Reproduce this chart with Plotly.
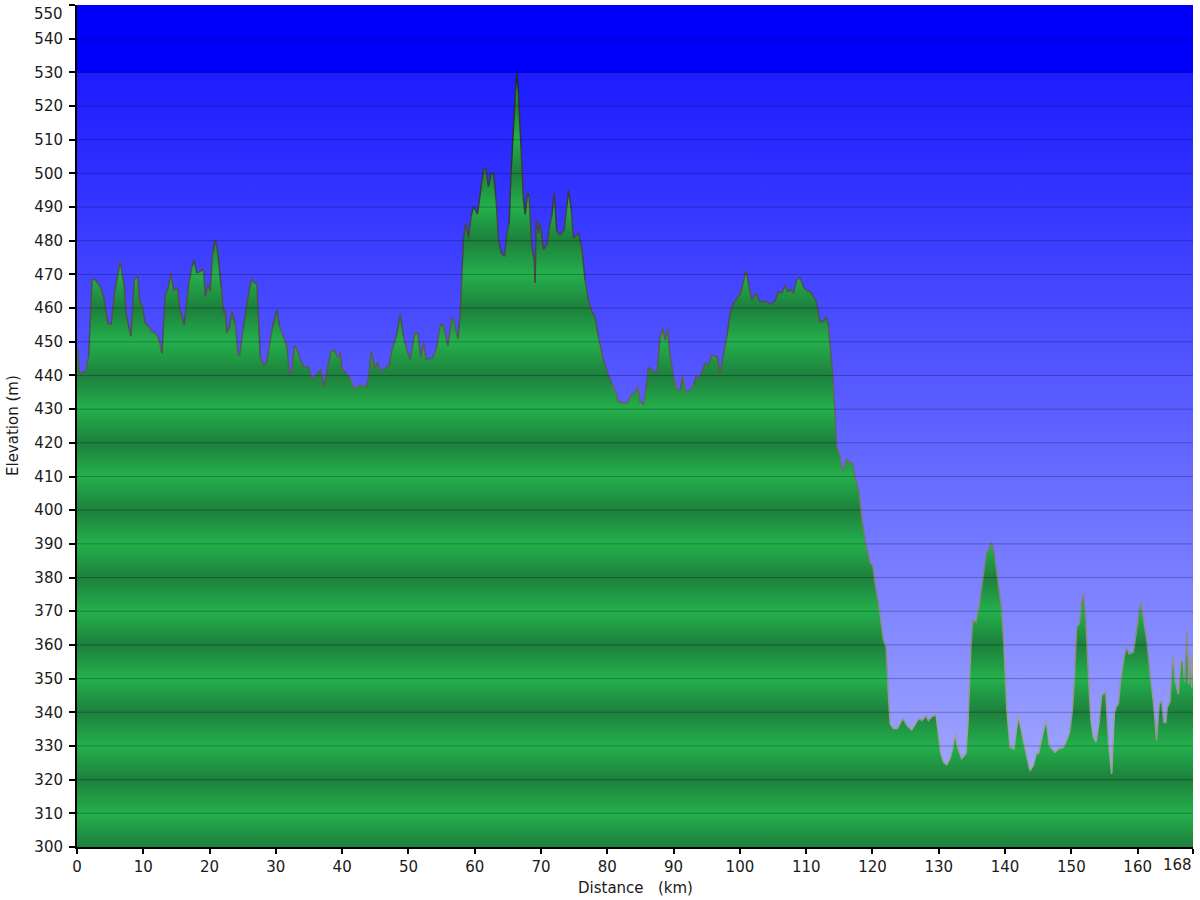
import plotly.graph_objects as go

# ---------------- data ----------------
distance_km = [
    0.0, 0.1, 0.4, 0.75, 1.25, 1.5, 1.75, 2.26, 2.76, 3.51, 4.02, 4.67, 5.17, 5.68, 6.53,
    7.13, 7.43, 8.14, 8.64, 9.14, 9.45, 9.80, 10.30, 10.80, 11.31, 11.81, 12.16, 12.46,
    12.81, 13.32, 13.67, 14.17, 14.57, 15.18, 15.48, 16.18, 16.83, 17.34, 17.69, 18.09,
    18.59, 19.10, 19.35, 19.75, 20.10, 20.45, 20.86, 21.26, 21.76, 22.11, 22.36, 22.62,
    22.97, 23.37, 23.87, 24.27, 24.53, 25.03, 25.48, 25.88, 26.39, 26.64, 27.14, 27.64,
    28.15, 28.65, 29.40, 30.16, 30.56, 31.16, 31.66, 32.07, 32.42, 32.82, 33.20, 33.68,
    34.18, 34.93, 35.28, 35.43, 36.44, 36.79, 37.19, 37.70, 38.30, 38.80, 39.21, 39.56,
    39.71, 39.96, 40.71, 41.22, 41.82, 42.72, 43.22, 43.63, 43.98, 44.38, 44.73, 44.99,
    45.34, 45.74, 46.49, 47.10, 47.50, 48.15, 48.76, 49.26, 49.76, 50.26, 50.92, 51.42,
    51.87, 52.27, 52.68, 53.68, 54.29, 54.79, 55.29, 55.94, 56.55, 56.80, 57.45, 57.80,
    58.10, 58.30, 58.66, 59.06, 59.46, 59.81, 60.41, 60.82, 61.32, 61.67, 62.07, 62.43,
    62.83, 63.23, 63.58, 63.99, 64.49, 64.84, 65.19, 65.50, 65.85, 66.15, 66.35, 66.60,
    66.95, 67.35, 67.61, 67.96, 68.21, 68.61, 68.96, 69.11, 69.27, 69.62, 69.87, 70.37,
    70.87, 71.27, 71.63, 71.98, 72.38, 72.89, 73.49, 73.89, 74.14, 74.55, 74.89, 75.40,
    75.65, 76.15, 76.65, 77.16, 77.66, 78.16, 78.66, 79.42, 80.17, 80.68, 81.18, 81.68,
    82.43, 82.94, 83.44, 84.19, 84.60, 84.95, 85.45, 85.80, 86.20, 86.86, 87.46, 87.97,
    88.37, 88.72, 89.07, 89.37, 89.97, 90.58, 90.98, 91.38, 91.89, 92.49, 92.99, 93.39,
    93.89, 94.75, 95.25, 95.76, 96.26, 96.61, 97.01, 97.51, 98.02, 98.52, 99.02, 99.53,
    100.03, 100.53, 100.94, 101.29, 101.79, 102.39, 103.05, 104.05, 104.66, 105.31,
    105.81, 106.32, 106.82, 107.17, 107.57, 108.07, 108.58, 109.08, 109.58, 110.18,
    110.59, 111.09, 111.49, 112.10, 112.60, 113.00, 113.35, 113.86, 114.10, 114.36,
    114.61, 115.01, 115.52, 116.12, 116.62, 117.02, 117.37, 118.03, 118.38, 118.88,
    119.63, 120.04, 120.39, 120.99, 121.64, 122.05, 122.30, 122.65, 123.15, 123.75,
    124.56, 125.16, 125.92, 126.67, 127.07, 127.43, 128.08, 128.43, 128.93, 129.59,
    129.94, 130.30, 130.70, 131.20, 131.70, 132.10, 132.46, 132.81, 133.46, 134.11,
    134.46, 134.82, 135.12, 135.62, 136.22, 136.72, 137.13, 137.98, 138.48, 138.99,
    139.49, 139.84, 140.25, 140.75, 141.35, 142.00, 142.76, 143.26, 143.76, 144.26,
    144.77, 145.02, 145.52, 146.18, 146.68, 147.53, 148.03, 148.79, 149.29, 149.80,
    150.20, 150.55, 150.80, 151.20, 151.46, 151.81, 152.21, 152.56, 152.91, 153.31,
    153.72, 154.22, 154.57, 155.18, 155.58, 156.08, 156.48, 156.73, 157.09, 157.44,
    157.94, 158.34, 158.70, 159.35, 159.75, 160.10, 160.50, 160.95, 161.45, 161.86,
    162.36, 162.86, 163.26, 163.61, 163.96, 164.26, 164.47, 164.87, 165.12, 165.37,
    165.63, 166.13, 166.53, 166.83, 167.09, 167.44, 167.69, 167.89, 168.14, 168.35,
]

elevation_m = [
    448, 447.6, 440.2, 441, 441, 443.7, 445.6, 468.6, 468.4, 466.4, 463.5, 455.5, 455.3, 465, 473.9,
    466.4, 458, 451.6, 468.4, 469.4, 462, 461.3, 455.5, 454.6, 453, 452.6, 451.6, 450,
    446.6, 464, 465.4, 470.4, 465.4, 466, 460, 455, 467, 472.4, 474.2, 470.4,
    470.9, 471.6, 463.5, 467, 465, 476.3, 480.5, 476.3, 466.4, 458.5, 459.7, 452.6,
    454, 459, 455.5, 446.6, 445.8, 453.5, 459.5, 464.5, 468.9, 467.6, 467.2, 445.6,
    442.9, 444.2, 453.6, 459.5, 454.6, 451.6, 448.6, 440.2, 441.7, 449, 447.7, 444.7,
    442.7, 442.6, 439.1, 438.7, 441.1, 441.6, 436.6, 441.6, 447.2, 447.5, 446, 445.3,
    447, 442.1, 440.1, 439.1, 436.1, 437.1, 437.1, 436.4, 439.6, 447.3, 444.6, 442.1,
    444.1, 441.3, 442.1, 443.1, 447.5, 451.5, 458.4, 451.5, 447.5, 444.6, 452.5, 452.5,
    445.3, 449.5, 444.8, 445.3, 448.5, 455.2, 454.9, 448.7, 457.1, 456.9, 451, 458,
    472, 480.3, 485.3, 480.8, 487.3, 490.2, 488, 494.7, 501.1, 501.6, 496.1, 499.6,
    500.3, 492.2, 480.3, 476.4, 475.4, 482.3, 485.3, 501.1, 514.9, 524.8, 529.7, 523.8,
    509, 492.2, 487.8, 494.2, 493.2, 478.4, 474.4, 467.5, 486.3, 482.3, 485.3, 477.4,
    478.9, 484.3, 487.3, 494.2, 482.8, 481.8, 483.3, 490.2, 495.2, 489.2, 480.8, 481.8,
    482.3, 478, 468.3, 462.4, 458.9, 457.4, 451.5, 444.6, 440.1, 437.6, 435.6, 432.2,
    431.9, 431.7, 433.7, 435.1, 436.8, 432.2, 431.5, 435.6, 442.4, 441.6, 440.6, 451.5,
    454, 450.5, 454, 447.5, 439.6, 435.6, 435.6, 439.8, 434.9, 435.8, 437.1, 439.8,
    439.3, 443.6, 443.1, 446, 445.7, 445.5, 440.6, 446.5, 451.5, 458.4, 461.4, 462.9,
    464.2, 467.8, 471.3, 467.3, 462.4, 464.4, 461.9, 461.9, 461.1, 462.2,
    464.9, 464.4, 466.8, 464.9, 465.5, 464.6, 468.3, 469.1, 466.3, 465.1,
    464.9, 463.4, 462.4, 456, 456, 457.5, 455, 442, 437.7, 427.8,
    418.9, 416.9, 411.5, 415.4, 414, 414, 410, 405, 398.1, 391.2,
    384.3, 383.8, 378.3, 371.4, 361.5, 359.5, 348.6, 336.7, 335.2, 335.2,
    338.2, 336.2, 334.8, 337.2, 338.2, 337.5, 338.9, 337.5, 338.7, 339.2,
    333.8, 327.8, 325.3, 324.4, 326.3, 329.3, 333.8, 329.8, 326.3, 327.8,
    338.7, 358.5, 367.4, 366.9, 373.4, 380.3, 386.7, 390.5, 386, 378.1,
    370.2, 359.3, 341.5, 329.6, 329.1, 339, 331.6, 326.6, 322.7, 324.2,
    328.1, 327.6, 331.6, 337.7, 330.1, 328.1, 329.1, 329.6, 331.6, 334.6,
    341.5, 353.4, 365.2, 366.2, 371.7, 375.1, 366.2, 351.4, 338.5, 332.6,
    331.1, 337.5, 345, 346, 331.6, 321.7, 339.5, 341.5, 342.5, 349.4,
    356.3, 359.3, 357.3, 357.8, 363.3, 368.2, 372.7, 367.2, 360.3, 351.4,
    343.5, 331.6, 342.5, 343.5, 337, 337, 341.5, 343, 351.4, 356.8,
    349.4, 345.4, 355.3, 354.9, 348.9, 364, 348.4, 357.3, 347.4, 357,
]

total_km = 168.35
total_km_label = "168"
x_tick_values = [0, 10, 20, 30, 40, 50, 60, 70, 80, 90, 100, 110, 120, 130, 140, 150, 160, total_km]
x_tick_labels = ["0", "10", "20", "30", "40", "50", "60", "70", "80", "90", "100", "110",
                 "120", "130", "140", "150", "160", ""]
y_min, y_max = 300, 550
y_tick_values = list(range(y_min, y_max + 1, 10))
y_tick_labels = [str(v) for v in y_tick_values[:-1]] + [""]   # top label drawn separately
y_top_label = str(y_max)
band_top = 530
x_title = "Distance\u00a0\u00a0\u00a0(km)"
y_title = "Elevation (m)"

FONT = "DejaVu Sans, Verdana, sans-serif"
TICK_SIZE = 15
TXT = "#1a1a1a"

fig = go.Figure()

# ---------------- background (blue gradient) ----------------
p530 = (band_top - y_min) / (y_max - y_min)
fig.add_trace(go.Scatter(
    x=[0, total_km, total_km, 0, 0],
    y=[y_min, y_min, y_max, y_max, y_min],
    mode="lines", line=dict(width=0, color="rgba(0,0,0,0)"),
    fill="toself",
    fillgradient=dict(
        type="vertical", start=y_min, stop=y_max,
        colorscale=[[0.0, "rgb(172,180,255)"],
                    [p530 - 0.0005, "rgb(28,28,255)"],
                    [p530, "rgb(0,0,250)"],
                    [1.0, "rgb(0,0,250)"]],
    ),
    hoverinfo="skip", showlegend=False,
))

# ---------------- green striped fill ----------------
dark = "rgb(29,128,60)"
bright = "rgb(36,176,76)"
stripe_scale = []
levels = list(range(300, 541, 10))
for lv in levels:
    pos = (lv - 300) / (540 - 300)
    stripe_scale.append([pos, dark if ((lv - 300) // 10) % 2 == 0 else bright])

fig.add_trace(go.Scatter(
    x=distance_km, y=elevation_m,
    mode="lines", line=dict(width=0, color="rgba(0,0,0,0)"),
    fill="tozeroy",
    fillgradient=dict(type="vertical", start=300, stop=540, colorscale=stripe_scale),
    hoverinfo="skip", showlegend=False,
))

# ---------------- outline, shaded by elevation ----------------
def gray_for(e):
    t = (e - 320.0) / (530.0 - 320.0)
    t = max(0.0, min(1.0, t))
    g = int(round((165 - t * 125) / 10.0) * 10)
    return g

groups = []
cur_g = None
cur_x, cur_y = [], []
for i in range(len(distance_km) - 1):
    g = gray_for((elevation_m[i] + elevation_m[i + 1]) / 2.0)
    if g != cur_g:
        if cur_x:
            groups.append((cur_g, cur_x, cur_y))
        cur_g = g
        cur_x = [distance_km[i]]
        cur_y = [elevation_m[i]]
    cur_x.append(distance_km[i + 1])
    cur_y.append(elevation_m[i + 1])
if cur_x:
    groups.append((cur_g, cur_x, cur_y))

for g, gx, gy in groups:
    fig.add_trace(go.Scatter(
        x=gx, y=gy, mode="lines",
        line=dict(color=f"rgb({g},{g},{g})", width=1.5),
        hoverinfo="skip", showlegend=False,
    ))

# ---------------- gridlines on top ----------------
shapes = []
for v in y_tick_values[1:-1]:
    shapes.append(dict(
        type="line", xref="paper", x0=0, x1=1, yref="y", y0=v, y1=v,
        line=dict(color="rgba(0,0,40,0.28)", width=1), layer="above",
    ))

annotations = [
    dict(text=total_km_label, x=total_km, xref="x", y=0, yref="paper",
         xanchor="right", yanchor="top", yshift=-7, xshift=1, showarrow=False,
         font=dict(size=TICK_SIZE, family=FONT, color=TXT)),
    dict(text=y_top_label, x=0, xref="paper", y=y_max, yref="y",
         xanchor="right", yanchor="top", xshift=-12, yshift=2, showarrow=False,
         font=dict(size=TICK_SIZE, family=FONT, color=TXT)),
    dict(text=x_title, x=0.5, xref="paper", y=0, yref="paper",
         xanchor="center", yanchor="top", yshift=-30, showarrow=False,
         font=dict(size=15, family=FONT, color=TXT)),
    dict(text=y_title, x=0, xref="paper", y=0.5, yref="paper",
         xanchor="center", yanchor="middle", xshift=-64, textangle=-90, showarrow=False,
         font=dict(size=15, family=FONT, color=TXT)),
]

fig.update_layout(
    width=1200, height=900,
    margin=dict(l=77, r=7, t=5, b=53),
    paper_bgcolor="white", plot_bgcolor="white",
    shapes=shapes, annotations=annotations,
    font=dict(family=FONT, size=TICK_SIZE, color=TXT),
    xaxis=dict(
        range=[0, total_km], tickmode="array",
        tickvals=x_tick_values, ticktext=x_tick_labels,
        showgrid=False, zeroline=False, automargin=False,
        showline=True, linecolor="black", linewidth=2,
        ticks="outside", ticklen=5, tickwidth=2, tickcolor="black",
        tickfont=dict(size=TICK_SIZE, family=FONT, color=TXT),
        ticklabeloverflow="allow",
        layer="above traces",
    ),
    yaxis=dict(
        range=[y_min, y_max], tickmode="array",
        tickvals=y_tick_values, ticktext=y_tick_labels,
        showgrid=False, zeroline=False, automargin=False,
        showline=True, linecolor="black", linewidth=2,
        ticks="outside", ticklen=6, tickwidth=2, tickcolor="black",
        tickfont=dict(size=TICK_SIZE, family=FONT, color=TXT),
        ticklabeloverflow="allow", ticklabelstandoff=3,
        layer="above traces",
    ),
)

fig.write_html(
    "out.html",
    config={"displayModeBar": False},
    post_script="document.body.style.margin='0';document.body.style.overflow='hidden';",
)
